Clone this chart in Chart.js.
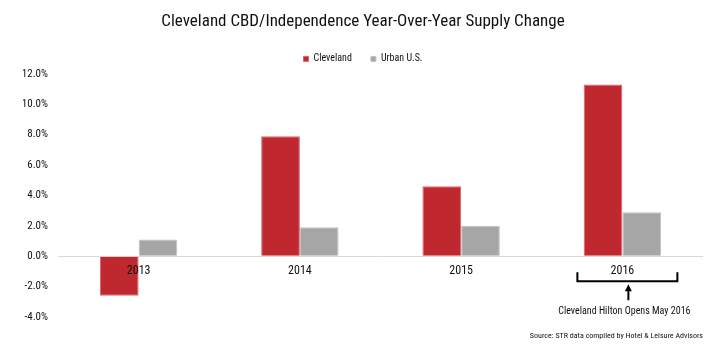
<!DOCTYPE html>
<html>
<head>
<meta charset="utf-8">
<script src="https://cdn.jsdelivr.net/npm/chart.js@4"></script>
<style>
  html, body { margin: 0; padding: 0; background: #ffffff; }
  #wrap { width: 726px; height: 355px; position: relative; }
</style>
</head>
<body>
<div id="wrap"><canvas id="c" width="726" height="355"></canvas></div>
<script>
const categories = ['2013', '2014', '2015', '2016'];
const clevelandValues = [-2.6, 7.9, 4.6, 11.3];
const urbanValues = [1.1, 1.9, 2.0, 2.9];
const yTicks = [-4, -2, 0, 2, 4, 6, 8, 10, 12];
const titleText = 'Cleveland CBD/Independence Year-Over-Year Supply Change';
const noteText = 'Cleveland Hilton Opens May 2016';
const noteCategory = '2016';
const sourceText = 'Source: STR data compiled by Hotel & Leisure Advisors';

const FONT = "'Roboto Condensed', 'Liberation Sans Narrow', sans-serif";
const RED = '#C0282F';
const GRAY = '#A6A6A6';

const annotationPlugin = {
  id: 'annot',
  afterDraw(chart) {
    const ctx = chart.ctx;
    const xs = chart.scales.x, ys = chart.scales.y;
    const cx = xs.getPixelForValue(categories.indexOf(noteCategory));
    const y0 = ys.getPixelForValue(0);
    ctx.save();
    ctx.strokeStyle = '#000';
    ctx.fillStyle = '#000';
    ctx.lineWidth = 2;
    // bracket
    const bx = cx + 5, half = 50;
    ctx.beginPath();
    ctx.moveTo(bx - half, y0 + 16);
    ctx.lineTo(bx - half, y0 + 25);
    ctx.lineTo(bx + half, y0 + 25);
    ctx.lineTo(bx + half, y0 + 16);
    ctx.stroke();
    // arrow
    const ax = bx + 1;
    ctx.beginPath();
    ctx.moveTo(ax, y0 + 44);
    ctx.lineTo(ax, y0 + 33);
    ctx.stroke();
    ctx.beginPath();
    ctx.moveTo(ax, y0 + 28);
    ctx.lineTo(ax - 3.5, y0 + 35);
    ctx.lineTo(ax + 3.5, y0 + 35);
    ctx.closePath();
    ctx.fill();
    // note text
    ctx.font = '10px ' + FONT;
    ctx.textAlign = 'center';
    ctx.textBaseline = 'middle';
    ctx.fillStyle = '#111';
    ctx.fillText(noteText, cx + 2, y0 + 55);
    // source
    ctx.font = '8px ' + FONT;
    ctx.textAlign = 'right';
    ctx.fillText(sourceText, chart.chartArea.right, 336);
    ctx.restore();
  }
};

new Chart(document.getElementById('c'), {
  type: 'bar',
  data: {
    labels: categories,
    datasets: [
      { label: 'Cleveland', data: clevelandValues, backgroundColor: RED, borderColor: '#d5676c', borderWidth: 1 },
      { label: 'Urban U.S.', data: urbanValues, backgroundColor: GRAY, borderColor: '#c2c2c2', borderWidth: 1 }
    ]
  },
  options: {
    responsive: false,
    animation: false,
    events: [],
    layout: { padding: { left: 23, right: 23, bottom: 38, top: 0 } },
    datasets: { bar: { categoryPercentage: 0.48, barPercentage: 1.0 } },
    plugins: {
      title: {
        display: true,
        text: titleText,
        color: '#111',
        font: { family: FONT, size: 17, weight: 'normal' },
        padding: { top: 12, bottom: 2.5 }
      },
      legend: {
        display: true,
        position: 'top',
        labels: {
          color: '#111',
          font: { family: FONT, size: 10 },
          boxWidth: 5,
          boxHeight: 5,
          padding: 19
        }
      },
      tooltip: { enabled: false }
    },
    scales: {
      x: {
        position: { y: 0 },
        grid: { display: false, drawTicks: false },
        border: { display: false },
        ticks: { color: '#111', font: { family: FONT, size: 12 }, padding: 8, z: 1 }
      },
      y: {
        min: -4,
        max: 12,
        afterBuildTicks(scale) { scale.ticks = yTicks.map(v => ({ value: v })); },
        afterFit(scale) { scale.width = 35; },
        border: { display: false },
        grid: {
          drawTicks: false,
          color: (c) => (c.tick && c.tick.value === 0) ? '#d9d9d9' : 'rgba(0,0,0,0)',
          lineWidth: 1
        },
        ticks: {
          color: '#111',
          padding: 10,
          font: { family: FONT, size: 11 },
          callback: (v) => Number(v).toFixed(1) + '%'
        }
      }
    }
  },
  plugins: [annotationPlugin]
});
</script>
</body>
</html>
